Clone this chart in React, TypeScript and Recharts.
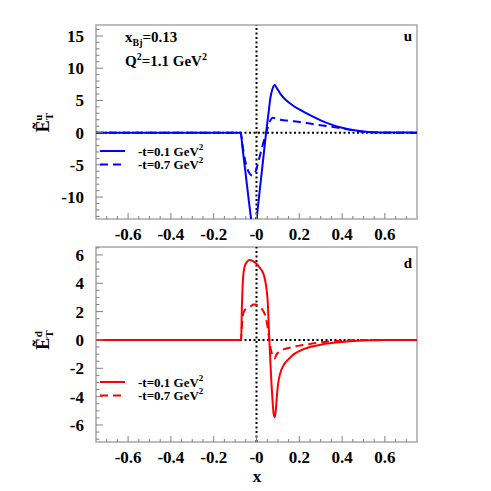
import React from 'react';
import { LineChart, Line, XAxis, YAxis, ReferenceLine, ReferenceArea, Legend } from 'recharts';

const FONT = '"Liberation Serif", "Times New Roman", serif';
const FRAME = '#a8a8a8';
const TICK = '#808080';

// --- x grid (shared tick labels) ---
const xMajor = [-0.6, -0.4, -0.2, 0, 0.2, 0.4, 0.6];
const xTickLabels = ['-0.6', '-0.4', '-0.2', '-0', '0.2', '0.4', '0.6'];

// --- u quark panel ---
const uX = [-0.75, -0.074, -0.065, -0.055, -0.045, -0.035, -0.025, -0.015, -0.005, 0.005, 0.015, 0.025, 0.035, 0.045, 0.055, 0.065, 0.075, 0.085, 0.095, 0.11, 0.13, 0.15, 0.175, 0.2, 0.25, 0.3, 0.35, 0.4, 0.45, 0.5, 0.55, 0.6, 0.75];
const uSolid = [0, 0, -2.5, -5.2, -8.0, -10.8, -13.5, -15.8, -15.0, -12.0, -9.0, -6.0, -3.0, 0, 2.7, 5.4, 6.8, 7.4, 6.9, 6.1, 5.3, 4.7, 4.1, 3.6, 2.7, 1.9, 1.25, 0.75, 0.4, 0.18, 0.06, 0.01, 0];
const uDashed = [0, 0, -2.0, -4.0, -5.4, -6.2, -6.6, -6.6, -6.1, -5.0, -3.7, -2.4, -1.2, 0, 1.0, 1.9, 2.3, 2.25, 2.15, 2.0, 1.9, 1.85, 1.75, 1.65, 1.4, 1.15, 0.9, 0.65, 0.35, 0.12, 0.03, 0, 0];
const uYMajor = [-10, -5, 0, 5, 10, 15];
const uYLabels = ['-10', '-5', '0', '5', '10', '15'];

// --- d quark panel ---
const dX = [-0.75, -0.072, -0.068, -0.063, -0.055, -0.045, -0.035, -0.025, -0.015, -0.005, 0.005, 0.015, 0.025, 0.035, 0.045, 0.052, 0.06, 0.065, 0.07, 0.075, 0.08, 0.085, 0.09, 0.095, 0.1, 0.11, 0.13, 0.15, 0.175, 0.2, 0.25, 0.3, 0.35, 0.4, 0.45, 0.5, 0.55, 0.6, 0.75];
const dSolid = [0, 0, 2.5, 4.3, 5.2, 5.5, 5.65, 5.62, 5.55, 5.45, 5.3, 5.1, 4.9, 4.55, 3.8, 2.8, 0, -1.6, -3.1, -4.3, -5.2, -5.45, -5.0, -4.0, -3.2, -2.4, -1.7, -1.35, -1.0, -0.78, -0.5, -0.33, -0.22, -0.14, -0.08, -0.04, -0.02, 0, 0];
const dDashed = [0, 0, 1.0, 1.8, 2.1, 2.2, 2.3, 2.4, 2.5, 2.5, 2.45, 2.35, 2.2, 1.95, 1.5, 0.9, 0, -0.5, -0.85, -1.1, -1.25, -1.3, -1.15, -1.0, -0.9, -0.78, -0.65, -0.57, -0.48, -0.4, -0.28, -0.17, -0.1, -0.05, -0.02, 0, 0, 0, 0];
const dYMajor = [-6, -4, -2, 0, 2, 4, 6];
const dYLabels = ['-6', '-4', '-2', '0', '2', '4', '6'];

const legendLabels = ['-t=0.1 GeV', '-t=0.7 GeV'];

// tick positions (minor ticks are just evenly spaced marks)
const steps = (from: number, to: number, step: number) => {
  const out: number[] = [];
  for (let v = from; v <= to + 1e-9; v += step) out.push(Math.round(v * 1000) / 1000);
  return out;
};
const xTicks = steps(-0.7, 0.7, 0.05);
const uYTicks = steps(-13, 16, 1);
const dYTicks = steps(-7, 6.5, 0.5);

const findMajor = (v: number, majors: number[]) => majors.findIndex((m) => Math.abs(m - v) < 1e-6);

const toRows = (xs: number[], solid: number[], dashed: number[]) =>
  xs.map((x, i) => ({ x, solid: solid[i], dashed: dashed[i] }));

const XTick = ({ x, y, payload }: any) => {
  const idx = findMajor(payload.value, xMajor);
  return (
    <g>
      <line x1={x} x2={x} y1={y} y2={y - (idx >= 0 ? 6 : 3)} stroke={TICK} strokeWidth={1} />
      {idx >= 0 && (
        <text x={x} y={y + 21} textAnchor="middle" fontFamily={FONT} fontWeight="bold" fontSize={17} fill="#000">
          {xTickLabels[idx]}
        </text>
      )}
    </g>
  );
};

const makeYTick = (majors: number[], labels: string[]) => ({ x, y, payload }: any) => {
  const idx = findMajor(payload.value, majors);
  return (
    <g>
      <line x1={x} x2={x + (idx >= 0 ? 7 : 3.5)} y1={y} y2={y} stroke={TICK} strokeWidth={1} />
      {idx >= 0 && (
        <text x={x - 12} y={y + 6} textAnchor="end" fontFamily={FONT} fontWeight="bold" fontSize={17} fill="#000">
          {labels[idx]}
        </text>
      )}
    </g>
  );
};

const LegendBox = ({ color }: { color: string }) => (
  <svg width={140} height={32} style={{ display: 'block', overflow: 'visible' }}>
    {legendLabels.map((lab, i) => {
      const ry = 8 + i * 13.5;
      return (
        <g key={lab}>
          <line x1={2} x2={27} y1={ry} y2={ry} stroke={color} strokeWidth={2} strokeDasharray={i === 1 ? '8 5' : undefined} />
          <text x={40} y={ry + 4.5} fontFamily={FONT} fontWeight="bold" fontSize={13} fill="#000">
            {lab}
            <tspan fontSize={9} dy={-6}>2</tspan>
          </text>
        </g>
      );
    })}
  </svg>
);

interface PanelProps {
  rows: { x: number; solid: number; dashed: number }[];
  domain: [number, number];
  yTicks: number[];
  yMajor: number[];
  yLabels: string[];
  color: string;
  height: number;
  margin: { top: number; right: number; bottom: number; left: number };
  legendTop: number;
}

const Panel = ({ rows, domain, yTicks, yMajor, yLabels, color, height, margin, legendTop }: PanelProps) => (
  <LineChart width={491} height={height} data={rows} margin={margin}>
    <XAxis
      dataKey="x"
      type="number"
      domain={[-0.75, 0.75]}
      ticks={xTicks}
      interval={0}
      allowDataOverflow
      axisLine={false}
      tickLine={false}
      tickSize={0}
      tickMargin={0}
      height={24}
      tick={(p: any) => <XTick {...p} />}
    />
    <YAxis
      type="number"
      domain={domain}
      ticks={yTicks}
      interval={0}
      allowDataOverflow
      axisLine={false}
      tickLine={false}
      tickSize={0}
      tickMargin={0}
      width={60}
      tick={makeYTick(yMajor, yLabels)}
    />
    <ReferenceArea x1={-0.75} x2={0.75} y1={domain[0]} y2={domain[1]} fill="none" fillOpacity={0} stroke={FRAME} strokeWidth={1.5} ifOverflow="visible" />
    <ReferenceLine x={0} stroke="#000" strokeWidth={2} strokeDasharray="2 2.5" />
    <ReferenceLine y={0} stroke="#000" strokeWidth={2} strokeDasharray="2 2.5" />
    <Line type="monotone" dataKey="solid" stroke={color} strokeWidth={2} dot={false} isAnimationActive={false} />
    <Line type="monotone" dataKey="dashed" stroke={color} strokeWidth={2} strokeDasharray="8 5" dot={false} isAnimationActive={false} />
    <Legend
      layout="vertical"
      align="center"
      verticalAlign="middle"
      wrapperStyle={{ left: 98, top: legendTop, width: 140, height: 32 }}
      content={() => <LegendBox color={color} />}
    />
  </LineChart>
);

const YTitle = ({ cx, cy, q }: { cx: number; cy: number; q: string }) => (
  <text transform={`translate(${cx},${cy}) rotate(-90)`} textAnchor="middle" fontFamily={FONT} fontWeight="bold" fontSize={18} fill="#000">
    {'\u1EBC'}
    <tspan fontSize={11} dy={4}>T</tspan>
    <tspan fontSize={11} dx={-7} dy={-11}>{q}</tspan>
  </text>
);

export default function App() {
  const uRows = toRows(uX, uSolid, uDashed);
  const dRows = toRows(dX, dSolid, dDashed);
  return (
    <div style={{ position: 'absolute', left: 0, top: 0, width: 491, height: 491, background: '#fff' }}>
      <div style={{ position: 'absolute', left: 0, top: 0 }}>
        <Panel
          rows={uRows}
          domain={[-13.4, 16.7]}
          yTicks={uYTicks}
          yMajor={uYMajor}
          yLabels={uYLabels}
          color="#0000ff"
          height={245}
          margin={{ top: 25, right: 74, bottom: 2, left: 36 }}
          legendTop={143}
        />
      </div>
      <div style={{ position: 'absolute', left: 0, top: 245 }}>
        <Panel
          rows={dRows}
          domain={[-7.2, 6.56]}
          yTicks={dYTicks}
          yMajor={dYMajor}
          yLabels={dYLabels}
          color="#ff0000"
          height={246}
          margin={{ top: 2, right: 74, bottom: 25, left: 36 }}
          legendTop={129}
        />
      </div>
      <svg width={491} height={491} style={{ position: 'absolute', left: 0, top: 0, pointerEvents: 'none' }}>
        <g fontFamily={FONT} fontWeight="bold" fill="#000">
          <text x={125} y={42} fontSize={15}>
            x<tspan fontSize={10} dy={4}>Bj</tspan>
            <tspan dy={-4}>=0.13</tspan>
          </text>
          <text x={125} y={66} fontSize={15}>
            Q<tspan fontSize={10} dy={-6}>2</tspan>
            <tspan dy={6}>=1.1 GeV</tspan>
            <tspan fontSize={10} dy={-6}>2</tspan>
          </text>
          <text x={412} y={41} fontSize={15} textAnchor="end">u</text>
          <text x={412} y={268} fontSize={15} textAnchor="end">d</text>
          <text x={257} y={482} fontSize={17} textAnchor="middle">x</text>
        </g>
        <YTitle cx={49} cy={123} q="u" />
        <YTitle cx={49} cy={340} q="d" />
      </svg>
    </div>
  );
}
